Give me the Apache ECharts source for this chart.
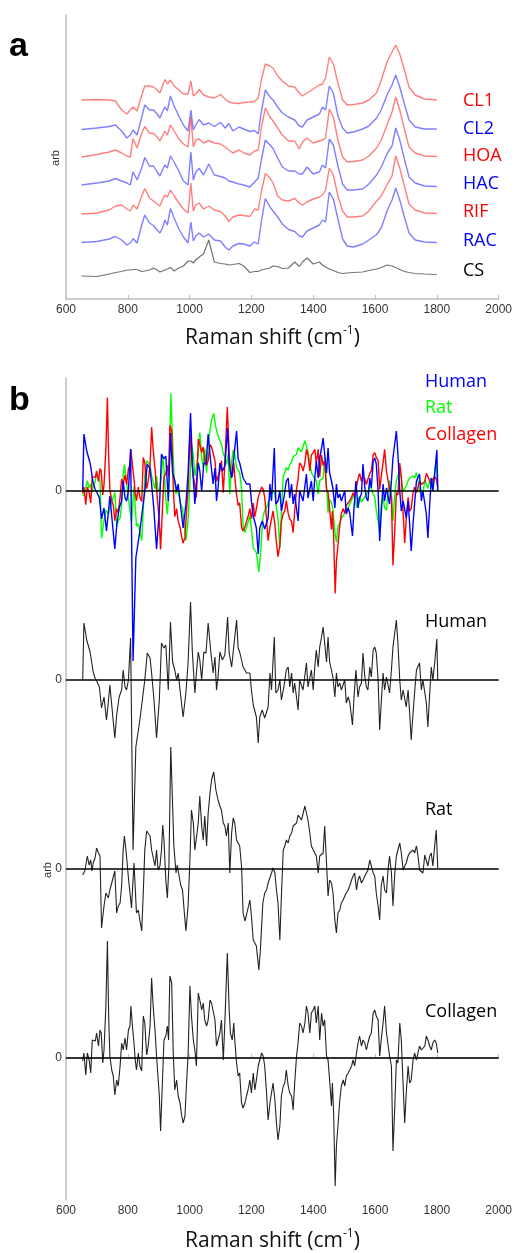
<!DOCTYPE html>
<html>
<head>
<meta charset="utf-8">
<script src="https://cdn.jsdelivr.net/npm/echarts@6/dist/echarts.min.js"></script>
<style>
html, body { margin: 0; background: #fff; }
#chart { width: 515px; height: 1253px; }
</style>
</head>
<body>
<div id="chart"></div>
<script>
// panel a: raman spectra, sampled on a common wavenumber grid (arb units, already stacked)
const waveA = [650, 700, 740, 760, 780, 797, 808, 817, 830, 845, 855, 870, 883, 895, 904, 912, 920, 928, 938, 950,
  965, 980, 995, 1004, 1012, 1020, 1031, 1045, 1062, 1080, 1100, 1115, 1127, 1140, 1160, 1175, 1195, 1210, 1222, 1232,
  1245, 1260, 1270, 1285, 1300, 1320, 1340, 1355, 1365, 1380, 1400, 1420, 1430, 1440, 1452, 1465, 1480, 1495, 1510, 1530,
  1560, 1580, 1605, 1620, 1640, 1655, 1667, 1680, 1695, 1710, 1730, 1760, 1800]
const cl1 = [199, 199.5, 199, 198, 189, 185, 189, 192, 188, 204, 213, 213, 212, 209, 206, 213, 219.5, 215, 219, 213,
  209, 205, 205, 218, 203, 205, 209.5, 204, 202, 201, 204.5, 200, 197, 196, 195.5, 196.5, 197, 197.5, 201, 219,
  235, 233, 231, 223, 218, 213, 212, 206, 203, 206, 210, 214, 215, 221, 242, 235, 216, 199, 194, 194.5,
  196, 199, 206, 219, 238, 247, 254, 245, 229, 212, 204, 200, 199]
const cl2 = [169.5, 171, 172.5, 174, 168, 161, 164, 169, 164, 182, 194, 189, 189, 185, 181, 187, 192, 188, 203, 193,
  183, 174, 168, 189, 169, 174, 179.5, 174, 176, 172.5, 176.5, 171, 175.5, 168, 172, 170, 167.5, 168.5, 165, 187,
  209, 202, 199, 192, 186, 182, 179, 173, 172, 179, 182, 185, 192, 189, 213, 206, 183, 171, 166, 167,
  170, 173, 181, 189, 205, 214, 224, 212, 195, 179, 172, 170, 170]
const hoa = [142, 144.5, 147, 149, 146, 143, 142, 160.5, 151, 166, 172.5, 166, 165.5, 162, 158, 163, 168, 164, 174, 168,
  160, 155, 152, 182, 152, 159, 160, 156, 158.5, 156, 155, 152, 149, 146, 149, 146, 144, 148, 149, 171,
  191, 182, 178, 171, 164, 158, 158, 150, 157, 161, 156, 158, 159, 161, 190, 182, 159, 142, 137, 137.5,
  139, 143, 151, 159, 175, 187, 202, 189, 170, 152, 146, 143, 142.5]
const hac = [114, 116, 118, 120.5, 118, 116, 114, 127, 119, 131, 141.5, 133, 133, 127, 123, 129, 134, 131, 143, 137,
  128, 118, 114, 147, 119, 127, 130.5, 124, 135, 124, 122.5, 121, 118, 117, 115, 114, 112, 117, 121, 139,
  159, 154, 150.5, 141, 132, 128, 128, 125, 125, 132, 125, 127, 134, 131, 160, 154, 133, 115, 109, 109,
  110, 115, 124, 132, 146, 153, 171, 159, 140, 122, 116, 113, 112.5]
const rif = [85, 86, 89, 93, 94, 90, 88, 94, 90, 103, 110.5, 101, 98, 95, 93, 99, 104, 102, 109, 103,
  96, 90, 86, 116, 88, 94, 96, 90, 93, 89, 87.5, 83, 77.5, 82, 84, 83.5, 82.5, 90, 89, 107,
  125.5, 121, 116, 103, 99, 98, 100.5, 96, 94, 97, 100, 102, 104, 109, 131, 124, 103, 88, 82, 82,
  83, 88, 98, 103, 115, 123, 143, 131, 113, 95, 89, 86, 85.5]
const rac = [56.5, 57.5, 60, 62.5, 59, 54, 56, 60.5, 56, 74, 84, 76, 73.5, 69, 66, 71, 79, 74, 90.5, 81,
  70, 62, 56, 77, 58, 63, 66, 62, 65, 59, 58, 52, 49, 53, 55.5, 55, 53, 57, 55, 77,
  100.5, 92, 88, 82, 75, 69.5, 67.5, 63, 62, 68, 71, 74, 79, 77, 107, 100, 80, 60, 53, 52,
  55, 59, 64.5, 71, 89, 99, 111, 99, 82, 66, 59, 57, 56.5]
const cs = [23, 22.5, 25, 26.5, 27.5, 29, 29, 29.5, 29.5, 27.5, 28, 29, 31, 29, 27, 28, 29, 30, 31.5, 28,
  31, 33, 38, 38, 36, 39, 42, 45, 59, 37, 35.5, 35, 34, 34.5, 35.5, 33, 26.5, 27.5, 27.5, 29,
  30, 31, 33, 32.5, 30.5, 31, 37, 32.5, 37, 41, 35, 37, 34, 32, 30, 28.5, 26.5, 25.5, 26, 26.5,
  27, 28.5, 30, 31.5, 34, 33, 31.5, 29.5, 27.5, 26.5, 25.5, 25, 24.5]

// panel b: difference spectra, [wavenumber, arb]
const human = [[654, 0], [658, 57], [667, 40], [678, 28], [683, 18], [688, 8], [694, 2], [701, -2], [708, -7], [715, -28], [723, -17], [731, -40], [737, -22], [742, -5], [748, -25], [758, -58], [764, -35], [772, -17], [780, -10], [785, 10], [791, -7], [796, -10], [802, 0], [809, 42], [817, -170], [826, -67], [839, -40], [845, -42], [855, 0], [863, 27], [872, 22], [877, 7], [884, -17], [893, -58], [902, -20], [909, 37], [917, 32], [923, 35], [931, -10], [938, 58], [945, 18], [952, 10], [958, 0], [963, 7], [969, -10], [979, -37], [988, -13], [995, 17], [1003, 78], [1009, 27], [1017, -13], [1022, 7], [1028, 28], [1033, 20], [1039, 0], [1046, 28], [1053, 27], [1060, 57], [1068, 30], [1076, 7], [1082, 23], [1087, -10], [1092, 3], [1098, 28], [1106, 20], [1114, 25], [1123, 63], [1128, 27], [1136, 13], [1141, 28], [1146, 30], [1152, 60], [1157, 32], [1162, 28], [1168, 20], [1173, 13], [1179, 10], [1184, 7], [1195, 7], [1200, -10], [1206, -25], [1216, -37], [1222, -63], [1227, -37], [1235, -30], [1243, -38], [1249, -37], [1254, -27], [1260, 7], [1265, -10], [1274, 43], [1279, -13], [1286, -10], [1292, 0], [1297, -20], [1305, -7], [1313, 10], [1319, 13], [1324, -7], [1330, 7], [1335, -13], [1340, -3], [1351, -30], [1356, 0], [1367, -10], [1378, 17], [1383, -7], [1394, 10], [1400, -10], [1405, 13], [1410, 30], [1416, 13], [1421, 33], [1427, 43], [1432, 53], [1437, 37], [1443, 18], [1448, 43], [1453, 18], [1459, 10], [1464, 2], [1470, -17], [1475, 7], [1480, -7], [1486, -3], [1491, -10], [1502, 0], [1507, -23], [1513, -17], [1518, -22], [1527, -45], [1532, -17], [1538, 10], [1545, -17], [1550, -7], [1556, -3], [1561, 27], [1567, 3], [1572, -7], [1577, -10], [1583, 13], [1588, 3], [1594, 30], [1599, 33], [1604, 27], [1610, 0], [1615, -50], [1620, -23], [1626, 7], [1631, -10], [1637, 3], [1647, -13], [1653, 10], [1658, 33], [1669, 60], [1674, 37], [1680, 0], [1685, -20], [1691, -10], [1701, -27], [1707, -10], [1712, -33], [1717, -60], [1723, -33], [1728, -13], [1734, 10], [1739, 10], [1744, 17], [1750, -10], [1755, 0], [1766, -23], [1771, -47], [1777, -13], [1782, 13], [1787, 0], [1793, 17], [1800, 41], [1803, 0]]
const rat = [[654, -6], [661, -2], [669, 13], [675, 4], [680, 9], [684, -2], [688, 6], [694, 11], [699, 21], [705, 16], [710, 13], [715, -59], [723, -37], [729, -24], [737, -29], [742, -21], [748, -14], [753, -12], [758, -2], [764, -44], [769, -37], [775, -34], [780, -17], [785, 19], [789, 33], [794, 19], [802, -9], [807, -11], [812, -39], [820, 6], [828, -44], [834, -41], [839, -51], [845, -62], [850, -24], [855, 19], [861, 38], [866, 39], [872, 33], [877, 19], [882, 18], [888, 3], [893, 19], [898, -1], [904, 3], [909, 19], [913, 44], [917, 29], [923, -11], [928, -29], [933, 3], [939, 122], [945, 63], [949, 23], [956, -4], [960, 4], [966, 3], [971, -16], [977, -21], [983, -44], [988, -62], [995, -37], [1001, 9], [1006, 59], [1012, 46], [1017, 19], [1022, 19], [1028, 46], [1033, 73], [1039, 43], [1044, 29], [1049, 53], [1055, 23], [1060, 56], [1066, 76], [1071, 89], [1078, 97], [1085, 79], [1092, 69], [1098, 63], [1103, 59], [1109, 46], [1114, 43], [1119, 33], [1125, 46], [1130, -4], [1136, 36], [1141, 51], [1146, 46], [1152, 29], [1157, 26], [1162, 23], [1168, 3], [1173, -44], [1179, -52], [1184, -46], [1189, -47], [1195, -31], [1200, -47], [1206, -71], [1216, -77], [1224, -101], [1229, -81], [1237, -34], [1243, -24], [1249, -21], [1254, -14], [1260, -14], [1265, -4], [1270, 1], [1276, -4], [1281, -21], [1286, -34], [1292, -71], [1297, -27], [1303, 19], [1308, 23], [1313, 29], [1319, 26], [1324, 33], [1330, 36], [1335, 43], [1340, 44], [1346, 46], [1351, 54], [1356, 53], [1362, 49], [1367, 49], [1373, 63], [1378, 64], [1383, 49], [1389, 36], [1394, 23], [1400, 19], [1405, 16], [1410, 13], [1416, -4], [1421, 13], [1427, 13], [1432, 16], [1437, 43], [1443, 6], [1448, -27], [1453, -11], [1459, -14], [1464, -24], [1470, -51], [1475, -64], [1480, -44], [1486, -41], [1491, -34], [1497, -31], [1502, -27], [1507, -24], [1513, -21], [1518, -17], [1524, -11], [1529, -7], [1534, -4], [1540, -21], [1545, -11], [1550, -7], [1556, -14], [1561, -11], [1567, -7], [1572, -4], [1577, -1], [1583, 9], [1588, 3], [1594, -4], [1599, -7], [1604, -24], [1610, -37], [1615, -51], [1620, -17], [1626, -7], [1631, -21], [1637, -24], [1642, -1], [1647, 13], [1653, -4], [1658, -37], [1664, -4], [1669, 13], [1674, 19], [1680, 26], [1685, 16], [1691, -1], [1696, 3], [1701, 6], [1707, 13], [1712, 16], [1717, 16], [1723, 19], [1728, 16], [1734, 23], [1739, 13], [1744, -1], [1750, -1], [1755, -4], [1761, 14], [1766, 16], [1771, 3], [1777, 13], [1782, 16], [1787, 3], [1793, 23], [1798, 39], [1803, 1]]
const collagen = [[654, -3], [658, 5], [664, -17], [669, 5], [675, -2], [680, -15], [685, 18], [691, 20], [695, 17], [699, 25], [705, 12], [710, 28], [714, 25], [719, -5], [723, 8], [729, 52], [734, 117], [738, 42], [742, 2], [748, -12], [753, -18], [758, -37], [764, -22], [769, -28], [775, -8], [780, 15], [785, 8], [791, 20], [796, 8], [802, 28], [807, 32], [810, 52], [816, 28], [820, 15], [824, -2], [828, -12], [834, 5], [839, -8], [845, -13], [850, 42], [855, 35], [861, 3], [866, 12], [872, 32], [877, 80], [882, 52], [888, 28], [893, 2], [902, -38], [906, -73], [911, -32], [917, 18], [923, 22], [928, 32], [932, 18], [936, 82], [942, 75], [947, 5], [952, -32], [958, -22], [963, -38], [969, -45], [974, -57], [979, -65], [985, -58], [990, -25], [995, 2], [1001, 72], [1006, 42], [1012, 18], [1017, 8], [1022, -8], [1028, 65], [1033, 58], [1039, 48], [1044, 55], [1049, 38], [1055, 32], [1060, 38], [1066, 58], [1071, 55], [1076, 53], [1082, 38], [1087, 12], [1092, 18], [1098, 25], [1103, 38], [1109, -2], [1114, 35], [1122, 105], [1128, 48], [1132, 25], [1138, 18], [1143, 35], [1146, 18], [1152, -5], [1157, -18], [1162, -15], [1168, -45], [1173, -50], [1179, -45], [1184, -38], [1189, -32], [1195, -22], [1200, -35], [1206, -15], [1211, -32], [1216, -22], [1222, -8], [1227, -2], [1233, 5], [1238, 2], [1243, -8], [1249, -35], [1254, -62], [1260, -45], [1265, -35], [1270, -25], [1276, -42], [1281, -65], [1286, -82], [1292, -68], [1297, -38], [1303, -28], [1308, -25], [1313, -12], [1319, -28], [1324, -35], [1330, -38], [1335, -52], [1340, -25], [1346, 2], [1351, 15], [1356, 35], [1362, 32], [1367, 25], [1373, 35], [1378, 52], [1383, 45], [1389, 25], [1394, 45], [1400, 48], [1405, 52], [1410, 35], [1416, 52], [1421, 18], [1427, 45], [1432, 32], [1437, 38], [1443, 2], [1448, -2], [1453, -22], [1459, -48], [1462, -25], [1466, -55], [1471, -128], [1475, -88], [1480, -68], [1486, -42], [1491, -28], [1497, -22], [1502, -28], [1507, -18], [1513, -15], [1518, -12], [1524, -8], [1529, -2], [1534, -8], [1540, 5], [1545, 15], [1550, 22], [1556, 12], [1561, 18], [1567, 15], [1572, 8], [1577, 15], [1583, 22], [1588, 25], [1594, 45], [1599, 48], [1604, 42], [1610, 38], [1615, 2], [1620, 18], [1626, 35], [1631, 52], [1637, 25], [1642, 25], [1647, 2], [1653, -8], [1658, -93], [1664, -48], [1669, -2], [1674, -5], [1680, 35], [1685, 18], [1691, -28], [1696, -65], [1701, -35], [1707, -8], [1712, -25], [1717, -22], [1723, -2], [1728, 5], [1734, -2], [1739, 5], [1744, 12], [1750, 8], [1755, 8], [1761, 12], [1766, 22], [1771, 18], [1777, 12], [1782, 8], [1787, 15], [1793, 18], [1798, 15], [1803, 5]]

// stacking in panel b and the scale the rat / collagen curves get in the overlay
const offsetOverlay = 567
const offsetHuman = 378
const offsetRat = 189
const offsetCollagen = 0
const overlayScale = 0.8

const axisGray = '#bdbdbd'
const labelFont = 'Open Sans'

const shift = (pairs, off, k = 1) => pairs.map(([w, v]) => [w, v * k + off])
const spectrum = (vals) => waveA.map((w, i) => [w, vals[i]])

const xAxisFor = (gridIndex) => ({
  type: 'value',
  gridIndex,
  min: 600,
  max: 2000,
  interval: 200,
  axisLine: { lineStyle: { color: axisGray, width: 1.5 } },
  axisTick: { inside: true, length: 4, lineStyle: { color: axisGray } },
  axisLabel: { color: '#333', fontFamily: 'Liberation Sans', fontSize: 12, margin: 5, formatter: (v) => String(v) },
  splitLine: { show: false }
})

const line = (name, data, color, width, xi, yi) => ({
  name,
  type: 'line',
  xAxisIndex: xi,
  yAxisIndex: yi,
  data,
  showSymbol: false,
  symbol: 'none',
  silent: true,
  lineStyle: { color, width },
  z: 3
})

const text = (x, y, str, color, size) => ({
  type: 'text',
  x,
  y,
  style: { text: str, fill: color, font: size + 'px "' + labelFont + '"', verticalAlign: 'middle' }
})

const arbText = (x, y) => ({
  type: 'text',
  x,
  y,
  rotation: Math.PI / 2,
  style: { text: 'arb', font: '11px "Liberation Sans"', fill: '#333', align: 'center', verticalAlign: 'middle' }
})

const titleText = (y) => ({
  type: 'text',
  x: 185,
  y,
  style: {
    text: '{n|Raman shift (cm}{s|-1}{n|)}',
    verticalAlign: 'middle',
    rich: {
      n: { font: '21px "Open Sans"', fill: '#111' },
      s: { font: '12px "Open Sans"', fill: '#111', verticalAlign: 'top', lineHeight: 26 }
    }
  }
})

const chart = echarts.init(document.getElementById('chart'))
chart.setOption({
  animation: false,
  backgroundColor: '#fff',
  grid: [
    { left: 66, top: 15, width: 433, height: 284 },
    { left: 66, top: 378, width: 433, height: 822 }
  ],
  xAxis: [xAxisFor(0), xAxisFor(1)],
  yAxis: [
    {
      type: 'value',
      gridIndex: 0,
      min: 0,
      max: 284,
      axisLine: { show: true, lineStyle: { color: axisGray, width: 1.5 } },
      axisTick: { show: false },
      axisLabel: { show: false },
      splitLine: { show: false }
    },
    {
      type: 'value',
      gridIndex: 1,
      min: -142,
      max: 680,
      axisLine: { show: true, lineStyle: { color: axisGray, width: 1.5 } },
      axisTick: { show: false },
      axisLabel: {
        customValues: [offsetCollagen, offsetRat, offsetHuman, offsetOverlay],
        formatter: () => '0',
        color: '#333',
        fontFamily: 'Liberation Sans',
        fontSize: 12,
        margin: 4
      },
      splitLine: { show: false }
    }
  ],
  series: [
    line('CL1', spectrum(cl1), 'rgba(255,0,0,0.5)', 1.4, 0, 0),
    line('CL2', spectrum(cl2), 'rgba(0,0,255,0.5)', 1.4, 0, 0),
    line('HOA', spectrum(hoa), 'rgba(255,0,0,0.5)', 1.4, 0, 0),
    line('HAC', spectrum(hac), 'rgba(0,0,255,0.5)', 1.4, 0, 0),
    line('RIF', spectrum(rif), 'rgba(255,0,0,0.5)', 1.4, 0, 0),
    line('RAC', spectrum(rac), 'rgba(0,0,255,0.5)', 1.4, 0, 0),
    line('CS', spectrum(cs), 'rgba(0,0,0,0.55)', 1.2, 0, 0),

    line('Human black', shift(human, offsetHuman), '#222', 1.1, 1, 1),
    line('Rat black', shift(rat, offsetRat), '#222', 1.1, 1, 1),
    Object.assign(line('Collagen black', shift(collagen, offsetCollagen), '#222', 1.1, 1, 1), {
      markLine: {
        silent: true,
        symbol: ['none', 'none'],
        label: { show: false },
        lineStyle: { color: '#000', width: 1.6, type: 'solid' },
        data: [{ yAxis: offsetCollagen }, { yAxis: offsetRat }, { yAxis: offsetHuman }, { yAxis: offsetOverlay }]
      }
    }),
    line('Rat', shift(rat, offsetOverlay, overlayScale), '#00ff00', 1.4, 1, 1),
    line('Collagen', shift(collagen, offsetOverlay, overlayScale), '#ff0000', 1.4, 1, 1),
    line('Human', shift(human, offsetOverlay), '#0000ff', 1.4, 1, 1)
  ],
  graphic: [
    { type: 'text', x: 9, y: 30, style: { text: 'a', font: 'bold 34px "Liberation Sans"', fill: '#000' } },
    { type: 'text', x: 9, y: 384, style: { text: 'b', font: 'bold 34px "Liberation Sans"', fill: '#000' } },
    arbText(56, 158),
    arbText(48, 870),
    text(463, 101, 'CL1', '#ff0000', 18),
    text(463, 129, 'CL2', '#0000ff', 18),
    text(463, 156, 'HOA', '#ff0000', 18),
    text(463, 184, 'HAC', '#0000ff', 18),
    text(463, 212, 'RIF', '#ff0000', 18),
    text(463, 241, 'RAC', '#0000ff', 18),
    text(463, 271, 'CS', '#000', 18),
    text(425, 382, 'Human', '#0000ff', 18),
    text(425, 408, 'Rat', '#00ff00', 18),
    text(425, 435, 'Collagen', '#ff0000', 18),
    text(425, 622, 'Human', '#000', 18),
    text(425, 810, 'Rat', '#000', 18),
    text(425, 1012, 'Collagen', '#000', 18),
    titleText(338),
    titleText(1241)
  ]
})
</script>
</body>
</html>
